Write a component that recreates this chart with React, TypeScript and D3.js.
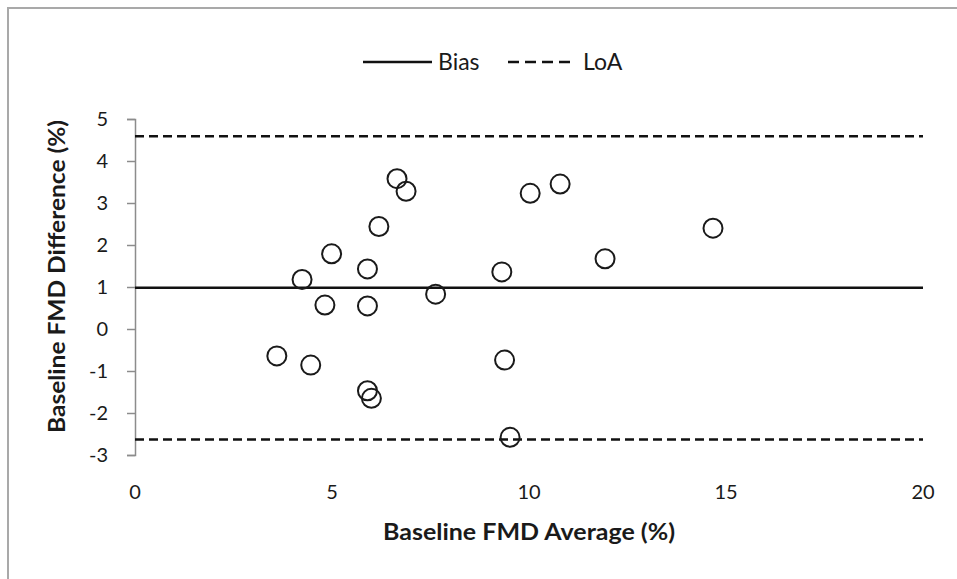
import React, { useEffect, useRef } from 'react';
import * as d3 from 'd3';

// Bland-Altman data
const avgValues = [6.65, 6.88, 6.19, 4.99, 5.9, 4.24, 4.82, 5.9, 7.63, 9.31, 10.03, 10.79, 11.93, 4.46, 9.38, 5.9, 6.0, 9.52, 3.6, 14.67];
const diffValues = [3.58, 3.28, 2.44, 1.79, 1.43, 1.18, 0.57, 0.55, 0.83, 1.36, 3.23, 3.45, 1.67, -0.86, -0.74, -1.47, -1.65, -2.58, -0.64, 2.4];
const bias = 0.98;
const loaValues = [4.59, -2.63];
const xTicks = [0, 5, 10, 15, 20];
const yTicks = [-3, -2, -1, 0, 1, 2, 3, 4, 5];

const FONT = 'Lato, "Open Sans", sans-serif';

const App: React.FC = () => {
  const svgRef = useRef<SVGSVGElement>(null);

  useEffect(() => {
    if (!svgRef.current) return;
    const svg = d3.select(svgRef.current);
    svg.selectAll('*').remove();

    const x = d3.scaleLinear().domain([0, 20]).range([135, 923]);
    const y = d3.scaleLinear().domain([-3, 5]).range([455, 119]);

    // chart frame
    svg.append('rect')
      .attr('x', 8).attr('y', 8)
      .attr('width', 1000).attr('height', 1000)
      .attr('fill', 'white')
      .attr('stroke', '#a9a9a9')
      .attr('stroke-width', 2);

    // y axis
    const yAxis = d3.axisLeft(y).tickValues(yTicks).tickSize(8).tickPadding(19)
      .tickFormat(d => String(d));
    const ya = svg.append('g').attr('transform', `translate(${x(0)},0)`).call(yAxis);
    ya.select('.domain').attr('stroke', '#8c8c8c').attr('stroke-width', 1.5);
    ya.selectAll('.tick line').attr('stroke', '#8c8c8c').attr('stroke-width', 1.5);
    ya.selectAll('.tick text')
      .attr('font-family', FONT).attr('font-size', 20).attr('fill', '#1a1a1a');

    // x tick labels (no axis line)
    svg.append('g').selectAll('text').data(xTicks).join('text')
      .attr('x', d => x(d)).attr('y', 492)
      .attr('dy', '0.35em')
      .attr('text-anchor', 'middle')
      .attr('font-family', FONT).attr('font-size', 20).attr('fill', '#1a1a1a')
      .text(d => d);

    // bias line
    svg.append('line')
      .attr('x1', x(0)).attr('x2', x(20))
      .attr('y1', y(bias)).attr('y2', y(bias))
      .attr('stroke', '#111').attr('stroke-width', 2.5);

    // limits of agreement
    svg.append('g').selectAll('line').data(loaValues).join('line')
      .attr('x1', x(0)).attr('x2', x(20))
      .attr('y1', d => y(d)).attr('y2', d => y(d))
      .attr('stroke', '#111').attr('stroke-width', 2.5)
      .attr('stroke-dasharray', '9,5');

    // points
    svg.append('g').selectAll('circle').data(avgValues).join('circle')
      .attr('cx', d => x(d))
      .attr('cy', (_, i) => y(diffValues[i]))
      .attr('r', 9.5)
      .attr('fill', 'none')
      .attr('stroke', '#1a1a1a')
      .attr('stroke-width', 2);

    // axis titles
    svg.append('text')
      .attr('x', (x(0) + x(20)) / 2).attr('y', 532)
      .attr('dy', '0.35em')
      .attr('text-anchor', 'middle')
      .attr('font-family', FONT).attr('font-weight', 'bold').attr('font-size', 23)
      .attr('textLength', 292).attr('lengthAdjust', 'spacingAndGlyphs')
      .attr('fill', '#1a1a1a')
      .text('Baseline FMD Average (%)');

    svg.append('text')
      .attr('transform', `translate(57,${(120 + 433) / 2}) rotate(-90)`)
      .attr('dy', '0.35em')
      .attr('text-anchor', 'middle')
      .attr('font-family', FONT).attr('font-weight', 'bold').attr('font-size', 23)
      .attr('textLength', 313).attr('lengthAdjust', 'spacingAndGlyphs')
      .attr('fill', '#1a1a1a')
      .text('Baseline FMD Difference (%)');

    // legend
    const lg = svg.append('g').attr('transform', 'translate(0,62)');
    lg.append('line').attr('x1', 363).attr('x2', 432).attr('y1', 0).attr('y2', 0)
      .attr('stroke', '#111').attr('stroke-width', 2.5);
    lg.append('text').attr('x', 438).attr('dy', '0.35em')
      .attr('font-family', FONT).attr('font-size', 23).attr('fill', '#1a1a1a')
      .text('Bias');
    lg.append('line').attr('x1', 508).attr('x2', 571).attr('y1', 0).attr('y2', 0)
      .attr('stroke', '#111').attr('stroke-width', 2.5)
      .attr('stroke-dasharray', '11,6');
    lg.append('text').attr('x', 583).attr('dy', '0.35em')
      .attr('font-family', FONT).attr('font-size', 23).attr('fill', '#1a1a1a')
      .text('LoA');
  }, []);

  return (
    <svg
      ref={svgRef}
      width={957}
      height={579}
      style={{ position: 'absolute', left: 0, top: 0, background: 'white' }}
    />
  );
};

export default App;
